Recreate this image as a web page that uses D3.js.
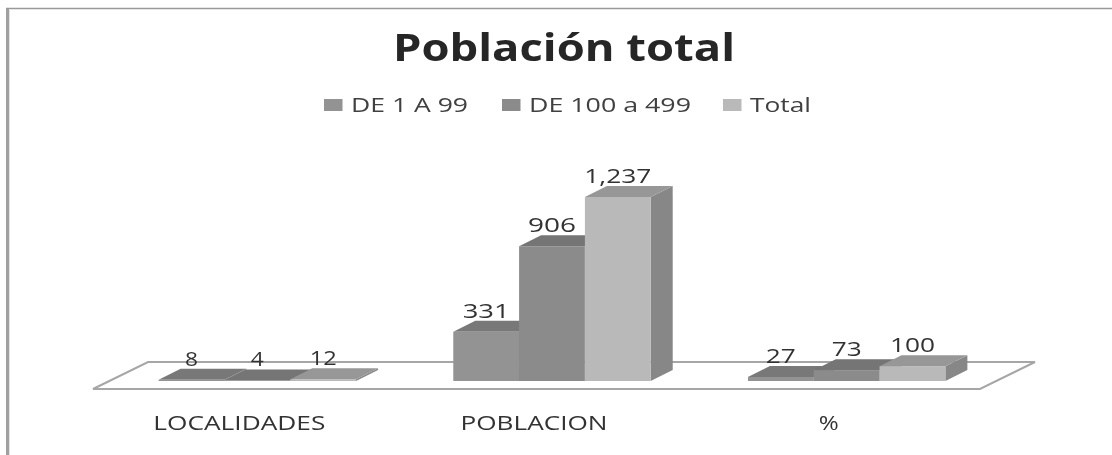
<!DOCTYPE html>
<html><head><meta charset="utf-8">
<style>html,body{margin:0;padding:0;background:#fff}svg{display:block}text{font-family:"Open Sans",sans-serif;}</style>
<script src="https://cdn.jsdelivr.net/npm/d3@7"></script></head>
<body><svg id="c" width="1112" height="455"></svg>
<script>
const categories = ["LOCALIDADES","POBLACION","%"];
const seriesNames = ["DE 1 A 99","DE 100 a 499","Total"];
const de1a99 = [8,331,27];
const de100a499 = [4,906,73];
const total = [12,1237,100];
const seriesValues = [de1a99,de100a499,total];
const frontColors = ["#939393","#8b8b8b","#b9b9b9"];
const topColors = ["#787878","#747474","#979797"];
const sideColors = ["#7d7d7d","#7a7a7a","#878787"];
const legendX = [324,502,723];
const legendWidths = [117,162,61];
const labelWidths = [[13,13,27],[47,48,67],[30,30,45]];
const axisWidths = [172,147,20];

const svg = d3.select("#c");
const defs = svg.append("defs");
defs.append("filter").attr("id","soft").append("feGaussianBlur").attr("stdDeviation",0.55);
const root = svg.append("g").attr("filter","url(#soft)");

const dx = 22, dy = 11, base = 381;
const x0 = d3.scaleBand().domain(categories).range([110,994]).paddingInner(0.33).paddingOuter(0.165);
const x1 = d3.scaleBand().domain(d3.range(3)).range([0,x0.bandwidth()]);
const y = d3.scaleLinear().domain([0,1237]).range([base,197]);
const fmt = d3.format(",");

// frame
svg.insert("path","g").attr("d","M7.5,455V8").attr("fill","none").attr("stroke","#a0a0a0").attr("stroke-width",3);
svg.insert("path","g").attr("d","M6,8.5H1112").attr("fill","none").attr("stroke","#999").attr("stroke-width",1.4);
svg.insert("path","g").attr("d","M9.5,455V10").attr("fill","none").attr("stroke","#e4e4e4").attr("stroke-width",1);

// floor
root.append("path").attr("d","M93,389L148,362H1035L980,389Z")
  .attr("fill","#fff").attr("stroke","#a6a6a6").attr("stroke-width",2);

// bars
categories.forEach((c,i)=>{
  const g = root.append("g").attr("transform",`translate(${x0(c)},0)`);
  seriesValues.forEach((vals,s)=>{
    const xl = x1(s), xr = xl + x1.bandwidth(), t = y(vals[i]);
    g.append("path").attr("d",`M${xr},${t}L${xr+dx},${t-dy}V${base-dy}L${xr},${base}Z`).attr("fill",sideColors[s]);
    g.append("path").attr("d",`M${xl},${t}L${xl+dx},${t-dy}H${xr+dx}L${xr},${t}Z`).attr("fill",topColors[s]);
    g.append("rect").attr("x",xl).attr("y",t).attr("width",x1.bandwidth()).attr("height",base-t).attr("fill",frontColors[s]);
  });
});
// data labels
categories.forEach((c,i)=>{
  seriesValues.forEach((vals,s)=>{
    root.append("text").attr("x",x0(c)+x1(s)+x1.bandwidth()/2).attr("y",y(vals[i])-14)
      .attr("text-anchor","middle").attr("font-size",20).attr("fill","#333")
      .attr("textLength",labelWidths[i][s]).attr("lengthAdjust","spacingAndGlyphs")
      .text(fmt(vals[i]));
  });
});

// axis
const ax = root.append("g").attr("transform","translate(-18,430)")
  .call(d3.axisBottom(x0).tickSize(0).tickPadding(0));
ax.select(".domain").remove();
ax.selectAll("text").attr("font-size",20).attr("fill","#333").attr("dy",0).attr("y",0)
  .attr("textLength",(d,i)=>axisWidths[i]).attr("lengthAdjust","spacingAndGlyphs")
  .style("font-family",'"Open Sans",sans-serif');

// title
root.append("text").attr("x",564).attr("y",61).attr("text-anchor","middle")
  .attr("font-size",37).attr("font-weight",700).attr("fill","#262626")
  .attr("textLength",342).attr("lengthAdjust","spacingAndGlyphs").text("Población total");

// legend
seriesNames.forEach((n,i)=>{
  root.append("rect").attr("x",legendX[i]).attr("y",99).attr("width",18.5).attr("height",12).attr("fill",frontColors[i]);
  root.append("text").attr("x",legendX[i]+27).attr("y",112).attr("font-size",20).attr("fill","#404040")
    .attr("textLength",legendWidths[i]).attr("lengthAdjust","spacingAndGlyphs").text(n);
});
</script></body></html>
